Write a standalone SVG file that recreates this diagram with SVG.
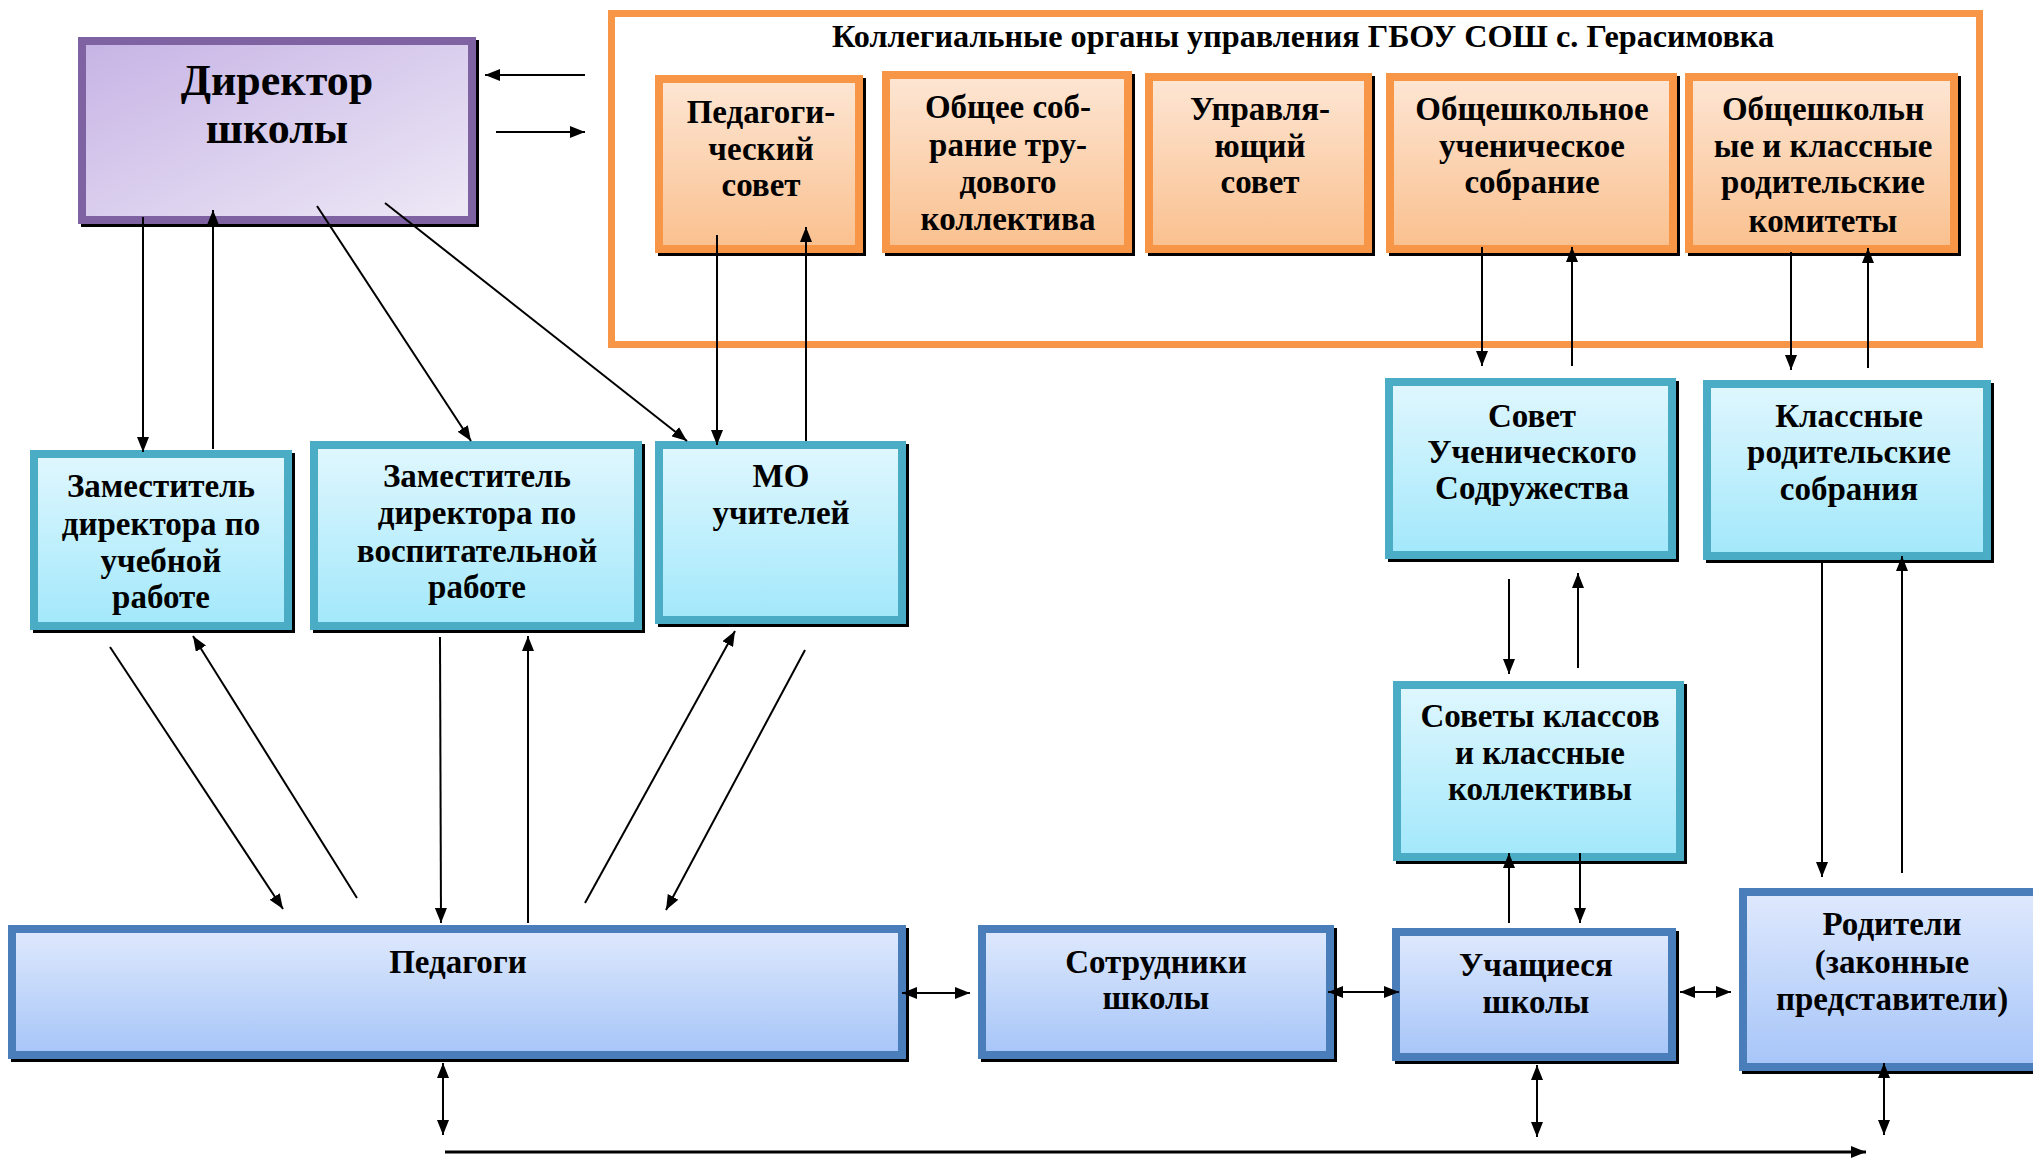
<svg xmlns="http://www.w3.org/2000/svg" width="2033" height="1159" viewBox="0 0 2033 1159">
<defs>
<linearGradient id="gDir" x1="0" y1="0" x2="1" y2="1"><stop offset="0" stop-color="#C6B3E5"/><stop offset="1" stop-color="#EEE9F6"/></linearGradient>
<linearGradient id="gOr" x1="0" y1="0" x2="0" y2="1"><stop offset="0" stop-color="#FDE6D4"/><stop offset="1" stop-color="#FAC08E"/></linearGradient>
<linearGradient id="gCy" x1="0" y1="0" x2="0" y2="1"><stop offset="0" stop-color="#E0F7FE"/><stop offset="1" stop-color="#A2E8FB"/></linearGradient>
<linearGradient id="gBl" x1="0" y1="0" x2="0" y2="1"><stop offset="0" stop-color="#DFE9FD"/><stop offset="1" stop-color="#A6C5F8"/></linearGradient>
<marker id="ah" viewBox="0 0 15 12" refX="15" refY="6" markerWidth="15" markerHeight="12" markerUnits="userSpaceOnUse" orient="auto-start-reverse"><path d="M0,0 L15,6 L0,12 z" fill="#000"/></marker>
</defs>
<style>
.sh{fill:#000}
.dir{fill:url(#gDir);stroke:#7E62A1;stroke-width:8}
.or{fill:url(#gOr);stroke:#F79646;stroke-width:8}
.cy{fill:url(#gCy);stroke:#4BACC6;stroke-width:8}
.bl{fill:url(#gBl);stroke:#4A7EBB;stroke-width:8}
text{font-family:"Liberation Serif","Times New Roman",serif;font-weight:bold;fill:#000;text-anchor:middle}
.t{font-size:33px}
.td{font-size:44px}
.tt{font-size:32px}
.c line{stroke:#000;stroke-width:2}
.a{marker-end:url(#ah)}
.d{marker-start:url(#ah);marker-end:url(#ah)}
</style>
<rect x="0" y="0" width="2033" height="1159" fill="#fff"/>

<g id="frame">
<rect x="611.5" y="13.5" width="1368" height="331" fill="none" stroke="#F79646" stroke-width="7"/>
<text class="tt" x="1303" y="47" textLength="942" lengthAdjust="spacingAndGlyphs">Коллегиальные органы управления ГБОУ СОШ с. Герасимовка</text>
</g>

<g id="director">
<rect class="sh" x="81" y="40" width="398" height="187"/>
<rect class="dir" x="82" y="41" width="390" height="179"/>
<text class="td" x="277" y="95">Директор</text>
<text class="td" x="277" y="143">школы</text>
</g>

<g id="ped-sovet">
<rect class="sh" x="658" y="78" width="208" height="178"/>
<rect class="or" x="659" y="79" width="200" height="170"/>
<text class="t" x="761" y="123">Педагоги-</text>
<text class="t" x="761" y="160">ческий</text>
<text class="t" x="761" y="196">совет</text>
</g>

<g id="obshchee-sobranie">
<rect class="sh" x="885" y="74" width="250" height="182"/>
<rect class="or" x="886" y="75" width="242" height="174"/>
<text class="t" x="1008" y="118">Общее соб-</text>
<text class="t" x="1008" y="156">рание тру-</text>
<text class="t" x="1008" y="193">дового</text>
<text class="t" x="1008" y="230">коллектива</text>
</g>

<g id="upr-sovet">
<rect class="sh" x="1148" y="76" width="227" height="180"/>
<rect class="or" x="1149" y="77" width="219" height="172"/>
<text class="t" x="1260" y="120">Управля-</text>
<text class="t" x="1260" y="157">ющий</text>
<text class="t" x="1260" y="193">совет</text>
</g>

<g id="uch-sobranie">
<rect class="sh" x="1389" y="76" width="291" height="180"/>
<rect class="or" x="1390" y="77" width="283" height="172"/>
<text class="t" x="1532" y="120">Общешкольное</text>
<text class="t" x="1532" y="157">ученическое</text>
<text class="t" x="1532" y="193">собрание</text>
</g>

<g id="rod-komitety">
<rect class="sh" x="1688" y="76" width="273" height="180"/>
<rect class="or" x="1689" y="77" width="265" height="172"/>
<text class="t" x="1823" y="120">Общешкольн</text>
<text class="t" x="1823" y="157">ые и классные</text>
<text class="t" x="1823" y="193">родительские</text>
<text class="t" x="1823" y="232">комитеты</text>
</g>

<g id="zam-ucheb">
<rect class="sh" x="33" y="453" width="262" height="180"/>
<rect class="cy" x="34" y="454" width="254" height="172"/>
<text class="t" x="161" y="497">Заместитель</text>
<text class="t" x="161" y="535">директора по</text>
<text class="t" x="161" y="572">учебной</text>
<text class="t" x="161" y="608">работе</text>
</g>

<g id="zam-vosp">
<rect class="sh" x="313" y="444" width="332" height="189"/>
<rect class="cy" x="314" y="445" width="324" height="181"/>
<text class="t" x="477" y="487">Заместитель</text>
<text class="t" x="477" y="524">директора по</text>
<text class="t" x="477" y="562">воспитательной</text>
<text class="t" x="477" y="598">работе</text>
</g>

<g id="mo">
<rect class="sh" x="658" y="444" width="251" height="183"/>
<rect class="cy" x="659" y="445" width="243" height="175"/>
<text class="t" x="781" y="487">МО</text>
<text class="t" x="781" y="524">учителей</text>
</g>

<g id="sovet-us">
<rect class="sh" x="1388" y="381" width="291" height="181"/>
<rect class="cy" x="1389" y="382" width="283" height="173"/>
<text class="t" x="1532" y="427">Совет</text>
<text class="t" x="1532" y="463">Ученического</text>
<text class="t" x="1532" y="499">Содружества</text>
</g>

<g id="klass-rod-sobr">
<rect class="sh" x="1706" y="383" width="288" height="180"/>
<rect class="cy" x="1707" y="384" width="280" height="172"/>
<text class="t" x="1849" y="427">Классные</text>
<text class="t" x="1849" y="463">родительские</text>
<text class="t" x="1849" y="500">собрания</text>
</g>

<g id="sovety-klassov">
<rect class="sh" x="1396" y="684" width="291" height="180"/>
<rect class="cy" x="1397" y="685" width="283" height="172"/>
<text class="t" x="1540" y="727">Советы классов</text>
<text class="t" x="1540" y="764">и классные</text>
<text class="t" x="1540" y="800">коллективы</text>
</g>

<g id="pedagogi">
<rect class="sh" x="11" y="928" width="898" height="134"/>
<rect class="bl" x="12" y="929" width="890" height="126"/>
<text class="t" x="458" y="973">Педагоги</text>
</g>

<g id="sotrudniki">
<rect class="sh" x="981" y="928" width="356" height="134"/>
<rect class="bl" x="982" y="929" width="348" height="126"/>
<text class="t" x="1156" y="973">Сотрудники</text>
<text class="t" x="1156" y="1009">школы</text>
</g>

<g id="uchashchiesya">
<rect class="sh" x="1395" y="931" width="284" height="133"/>
<rect class="bl" x="1396" y="932" width="276" height="125"/>
<text class="t" x="1536" y="976">Учащиеся</text>
<text class="t" x="1536" y="1013">школы</text>
</g>

<g id="roditeli">
<rect class="sh" x="1742" y="891" width="310" height="183"/>
<rect class="bl" x="1743" y="892" width="302" height="175"/>
<text class="t" x="1892" y="935">Родители</text>
<text class="t" x="1892" y="973">(законные</text>
<text class="t" x="1892" y="1010">представители)</text>
</g>

<g id="connectors" class="c">
<line class="a" x1="585" y1="75" x2="485" y2="75"/>
<line class="a" x1="496" y1="132" x2="585" y2="132"/>
<line class="a" x1="143" y1="217" x2="143" y2="452"/>
<line class="a" x1="213" y1="449" x2="213" y2="210"/>
<line class="a" x1="317" y1="206" x2="471" y2="441"/>
<line class="a" x1="385" y1="203" x2="687" y2="441"/>
<line class="a" x1="717" y1="235" x2="717" y2="445"/>
<line class="a" x1="806" y1="441" x2="806" y2="227"/>
<line class="a" x1="1482" y1="247" x2="1482" y2="366"/>
<line class="a" x1="1572" y1="366" x2="1572" y2="247"/>
<line class="a" x1="1791" y1="252" x2="1791" y2="370"/>
<line class="a" x1="1868" y1="368" x2="1868" y2="248"/>
<line class="a" x1="1509" y1="579" x2="1509" y2="674"/>
<line class="a" x1="1578" y1="668" x2="1578" y2="573"/>
<line class="a" x1="1822" y1="563" x2="1822" y2="877"/>
<line class="a" x1="1902" y1="873" x2="1902" y2="556"/>
<line class="a" x1="1509" y1="923" x2="1509" y2="853"/>
<line class="a" x1="1580" y1="853" x2="1580" y2="923"/>
<line class="a" x1="110" y1="647" x2="283" y2="909"/>
<line class="a" x1="357" y1="898" x2="193" y2="636"/>
<line class="a" x1="440" y1="637" x2="441" y2="923"/>
<line class="a" x1="528" y1="923" x2="528" y2="636"/>
<line class="a" x1="585" y1="903" x2="735" y2="631"/>
<line class="a" x1="805" y1="650" x2="666" y2="910"/>
<line class="d" x1="902" y1="993" x2="970" y2="993"/>
<line class="d" x1="1328" y1="992" x2="1399" y2="992"/>
<line class="d" x1="1680" y1="992" x2="1731" y2="992"/>
<line class="d" x1="443" y1="1063" x2="443" y2="1135"/>
<line class="d" x1="1537" y1="1065" x2="1537" y2="1137"/>
<line class="d" x1="1884" y1="1063" x2="1884" y2="1135"/>
<line class="a" x1="445" y1="1152" x2="1866" y2="1152" style="stroke-width:3"/>
</g>
</svg>
